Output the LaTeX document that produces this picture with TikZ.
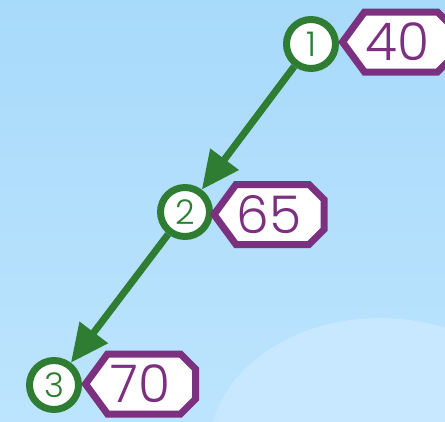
\documentclass[tikz,border=0pt]{standalone}
\usepackage{fontspec}
\setmainfont{Poppins Light}
\usetikzlibrary{arrows.meta}
\definecolor{gr}{RGB}{46,125,50}
\definecolor{pu}{RGB}{123,48,128}
\definecolor{bgtop}{RGB}{168,218,250}
\definecolor{bgbot}{RGB}{188,228,254}
\definecolor{blob}{RGB}{200,232,255}
\newcommand\tagat[4]{%
  \path[tag] (#2-55,#3) -- (#2-33,#3-30) -- (#2+40,#3-30) -- (#2+55,#3-15) -- (#2+55,#3+15) -- (#2+40,#3+30) -- (#2-33,#3+30) -- cycle;
  \node[val] (#1) at (#2,#3) {#4};}
\begin{document}
\begin{tikzpicture}[x=1pt,y=-1pt,
  vertex/.style={circle,draw=gr,line width=7pt,fill=white,minimum size=49pt,inner sep=0pt,text=gr,font=\fontsize{34}{34}\selectfont},
  val/.style={inner sep=0pt,text=pu,font=\fontsize{52}{52}\selectfont},
  tag/.style={draw=pu,line width=7pt,fill=white,line join=miter},
  arr/.style={draw=gr,line width=7pt,-{Triangle[length=38pt,width=34pt]}}]
\useasboundingbox (0,0) rectangle (445,421);
\fill[top color=bgtop,bottom color=bgbot] (0,0) rectangle (445,421);
\begin{scope}
\clip (0,0) rectangle (445,421);
\fill[blob] (380,450) ellipse [x radius=171, y radius=132];
\end{scope}
\node[vertex] (c1) at (311,44) {1};
\node[vertex] (c2) at (185,212) {2};
\node[vertex] (c3) at (54,385) {3};
\draw[arr] (c1) -- (c2);
\draw[arr] (c2) -- (c3);
\tagat{v1}{397.5}{42}{40}
\tagat{v2}{269}{214.5}{65}
\tagat{v3}{140.5}{384}{70}
\end{tikzpicture}
\end{document}
